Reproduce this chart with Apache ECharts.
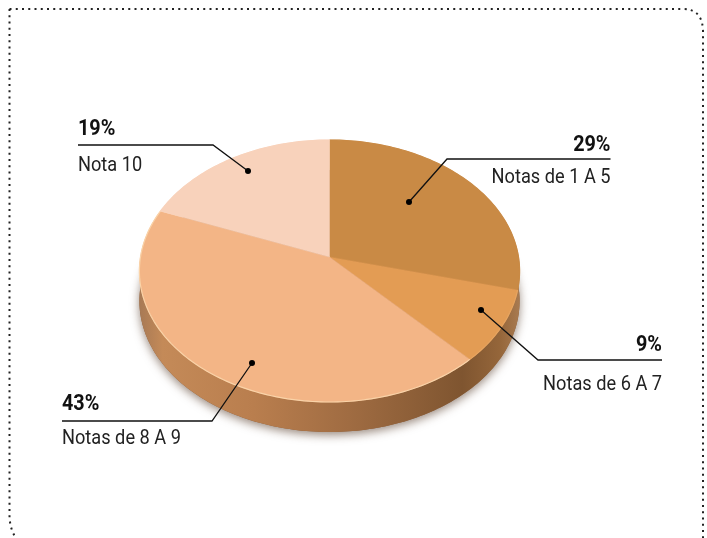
<!DOCTYPE html>
<html lang="pt">
<head>
    <meta charset="UTF-8">
    <title>Notas</title>
    <script src="https://cdn.jsdelivr.net/npm/echarts@6/dist/echarts.min.js"></script>
    <style>
        html, body { margin: 0; padding: 0; background: #fff; }
    </style>
</head>
<body>
    <div id="main" style="width: 707px;height:538px;"></div>
    <script type="text/javascript">
        // dados
        var categories = ['Notas de 1 A 5', 'Notas de 6 A 7', 'Notas de 8 A 9', 'Nota 10'];
        var values = [29, 9, 43, 19];
        var colors = ['#c98a45', '#e39c54', '#f3b586', '#f8d2bb'];
        var rimColors = ['#c98a45', '#e8a560', '#fad3a8', '#f8d2bb'];

        // perspectiva do disco: centro do disco na tela e inclinacao
        var cx = 329.5, cy = 257, ax = 189, by = 129.5, tilt = 0.107, depth = 30;
        var total = values.reduce(function (a, b) { return a + b; }, 0);

        // ponto do disco de raio r no angulo a (a partir do topo, sentido horario)
        function project(a, r, dy) {
            var u = r * Math.sin(a), v = r * Math.cos(a);
            var d = 1 + tilt * v;
            return [cx + ax * u / d, cy - by * v / d + (dy || 0)];
        }
        function rim(a0, a1, dy) {
            var pts = [];
            var n = Math.max(2, Math.ceil((a1 - a0) / 0.02));
            for (var i = 0; i <= n; i++) {
                pts.push(project(a0 + (a1 - a0) * i / n, 1, dy));
            }
            return pts;
        }
        function startAngle(idx) {
            var s = 0;
            for (var i = 0; i < idx; i++) s += values[i];
            return s / total * Math.PI * 2;
        }

        // rotulos: ponto na fatia, cotovelo, fim da linha e deslocamento dos textos
        var labelLayout = [
            { dot: [409, 202], knee: [447, 159], end: 610.5, align: 'right', up: -13.5, down: 18.5 },
            { dot: [481, 310], knee: [538, 360], end: 662, align: 'right', up: -15, down: 25 },
            { dot: [252, 363], knee: [212, 421], end: 62, align: 'left', up: -17, down: 18 },
            { dot: [248, 171], knee: [213, 145], end: 78, align: 'left', up: -15.5, down: 21 }
        ];

        var wallGradient = new echarts.graphic.LinearGradient(140, 0, 519, 0, [
            { offset: 0, color: '#a87a55' },
            { offset: 0.06, color: '#c48a58' },
            { offset: 0.3, color: '#b97e4e' },
            { offset: 0.55, color: '#a06c42' },
            { offset: 0.85, color: '#7f5530' },
            { offset: 0.95, color: '#95663a' },
            { offset: 1, color: '#a87a50' }
        ], true);

        var myChart = echarts.init(document.getElementById('main'));

        var option = {
            animation: false,
            backgroundColor: '#fff',
            series: [{
                // moldura pontilhada
                type: 'custom',
                coordinateSystem: 'none',
                silent: true,
                data: [0],
                z: 0,
                renderItem: function () {
                    return {
                        type: 'path',
                        shape: {
                            pathData: 'M9.5 9 L683 9 Q703 9 703 32 L703 545 M9.5 9 L9.5 515 Q9.5 530 18 541'
                        },
                        style: { fill: null, stroke: '#222', lineWidth: 2, lineDash: [2, 4.25] }
                    };
                }
            }, {
                // lateral do disco
                type: 'custom',
                coordinateSystem: 'none',
                silent: true,
                data: [total],
                z: 1,
                renderItem: function () {
                    var top = rim(0, Math.PI * 2, 0);
                    var bottom = rim(0, Math.PI * 2, depth);
                    return {
                        type: 'group',
                        children: [{
                            type: 'polygon',
                            shape: { points: bottom },
                            style: { fill: '#8a5c38', shadowBlur: 10, shadowColor: 'rgba(70,40,20,0.55)', shadowOffsetY: 3 }
                        }, {
                            type: 'polygon',
                            shape: { points: bottom.slice(Math.round(bottom.length * 0.2), Math.round(bottom.length * 0.8)).concat(top.slice(Math.round(top.length * 0.2), Math.round(top.length * 0.8)).reverse()) },
                            style: { fill: wallGradient }
                        }]
                    };
                }
            }, {
                // topo: uma fatia por categoria
                type: 'custom',
                coordinateSystem: 'none',
                silent: true,
                data: values,
                z: 2,
                renderItem: function (params, api) {
                    var i = params.dataIndex;
                    var a0 = startAngle(i);
                    var a1 = a0 + api.value(0) / total * Math.PI * 2;
                    var arc = rim(a0, a1, 0);
                    return {
                        type: 'group',
                        children: [{
                            type: 'polygon',
                            shape: { points: [[cx, cy]].concat(arc) },
                            style: { fill: colors[i], stroke: colors[i], lineWidth: 0.5 }
                        }, {
                            type: 'polyline',
                            shape: { points: arc },
                            style: { fill: null, stroke: rimColors[i], lineWidth: 1.2 }
                        }]
                    };
                }
            }, {
                // linhas e textos dos rotulos
                type: 'custom',
                coordinateSystem: 'none',
                silent: true,
                data: values,
                z: 3,
                renderItem: function (params, api) {
                    var i = params.dataIndex;
                    var l = labelLayout[i];
                    var y = l.knee[1];
                    return {
                        type: 'group',
                        children: [{
                            type: 'polyline',
                            shape: { points: [l.dot, l.knee, [l.end, y]] },
                            style: { fill: null, stroke: '#111', lineWidth: 1.3 }
                        }, {
                            type: 'circle',
                            shape: { cx: l.dot[0], cy: l.dot[1], r: 3 },
                            style: { fill: '#000' }
                        }, {
                            type: 'text',
                            x: l.end,
                            y: y + l.up,
                            scaleX: 0.9,
                            style: {
                                text: api.value(0) + '%',
                                font: 'bold 22px Roboto',
                                fill: '#111',
                                align: l.align,
                                verticalAlign: 'middle'
                            }
                        }, {
                            type: 'text',
                            x: l.end,
                            y: y + l.down,
                            scaleX: 0.91,
                            style: {
                                text: categories[i],
                                font: '20px Roboto',
                                fill: '#222',
                                align: l.align,
                                verticalAlign: 'middle'
                            }
                        }]
                    };
                }
            }]
        };
        myChart.setOption(option);
    </script>
</body>
</html>
